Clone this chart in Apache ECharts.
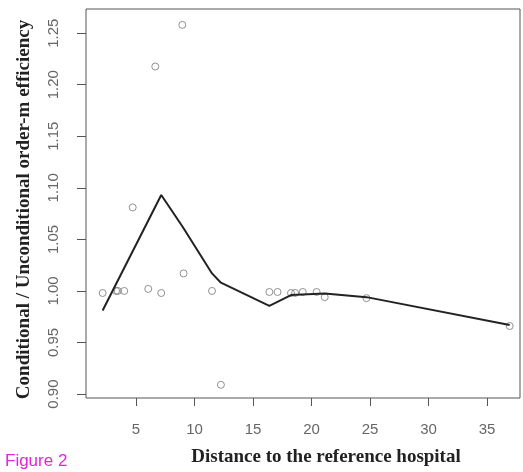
<!DOCTYPE html>
<html>
<head>
<meta charset="utf-8">
<style>html,body{margin:0;padding:0;background:#fff;}#c{width:523px;height:472px;}</style>
<script src="https://cdn.jsdelivr.net/npm/echarts@6/dist/echarts.min.js"></script>
</head>
<body>
<div id="c"></div>
<script>
const pointX = [2.15, 3.3, 3.45, 4.0, 4.72, 6.05, 6.65, 7.16, 8.96, 9.07, 11.5, 12.26, 16.4, 17.1, 18.25, 18.6, 19.25, 20.44, 21.13, 24.7, 36.94];
const pointY = [0.998, 1.000, 1.000, 1.000, 1.081, 1.002, 1.2176, 0.998, 1.258, 1.017, 1.000, 0.909, 0.999, 0.999, 0.998, 0.998, 0.999, 0.999, 0.994, 0.993, 0.966];
const lineX = [2.15, 7.16, 9.0, 11.5, 12.26, 16.4, 18.25, 21.13, 24.7, 36.94];
const lineY = [0.981, 1.093, 1.062, 1.017, 1.008, 0.9855, 0.996, 0.9975, 0.994, 0.967];
const xTicks = [5, 10, 15, 20, 25, 30, 35];
const yTicks = [0.90, 0.95, 1.00, 1.05, 1.10, 1.15, 1.20, 1.25];
const xTitle = 'Distance to the reference hospital';
const yTitle = 'Conditional / Unconditional order-m efficiency';
const figLabel = 'Figure 2';

const chart = echarts.init(document.getElementById('c'));
chart.setOption({
  animation: false,
  backgroundColor: '#fff',
  grid: {left: 86, top: 9, right: 3, bottom: 73, show: true, borderColor: '#555', borderWidth: 1, backgroundColor: 'transparent'},
  xAxis: {
    type: 'value', min: 0.73, max: 37.82,
    splitLine: {show: false},
    axisLine: {show: false},
    axisTick: {show: true, length: 8, inside: false, customValues: xTicks, lineStyle: {color: '#555'}},
    axisLabel: {customValues: xTicks, margin: 24, fontSize: 15, color: '#666', fontFamily: 'Liberation Sans'},
    name: xTitle, nameLocation: 'middle', nameGap: 50,
    nameTextStyle: {fontFamily: 'Liberation Serif', fontWeight: 'bold', fontSize: 19, color: '#222', padding: [0, 0, 0, 46]}
  },
  yAxis: {
    type: 'value', min: 0.8962, max: 1.2734,
    splitLine: {show: false},
    axisLine: {show: false},
    axisTick: {show: true, length: 9, inside: false, customValues: yTicks, lineStyle: {color: '#555'}},
    axisLabel: {customValues: yTicks, rotate: 90, margin: 25, fontSize: 15, color: '#666', fontFamily: 'Liberation Sans',
      formatter: v => v.toFixed(2)},
    name: yTitle, nameLocation: 'middle', nameGap: 52, nameRotate: 90,
    nameTextStyle: {fontFamily: 'Liberation Serif', fontWeight: 'bold', fontSize: 19, color: '#222', padding: [0, 12, 0, 0]}
  },
  graphic: [{
    type: 'text', left: 5, top: 453,
    style: {text: figLabel, fill: '#e424dc', fontSize: 17, fontFamily: 'Liberation Sans'}
  }],
  series: [
    {
      type: 'scatter',
      data: pointX.map((x, i) => [x, pointY[i]]),
      symbol: 'circle', symbolSize: 7,
      itemStyle: {color: 'rgba(0,0,0,0)', borderColor: '#777', borderWidth: 1},
      z: 2
    },
    {
      type: 'line',
      data: lineX.map((x, i) => [x, lineY[i]]),
      showSymbol: false, symbol: 'none',
      lineStyle: {color: '#222', width: 2},
      z: 3
    }
  ]
});
</script>
</body>
</html>
